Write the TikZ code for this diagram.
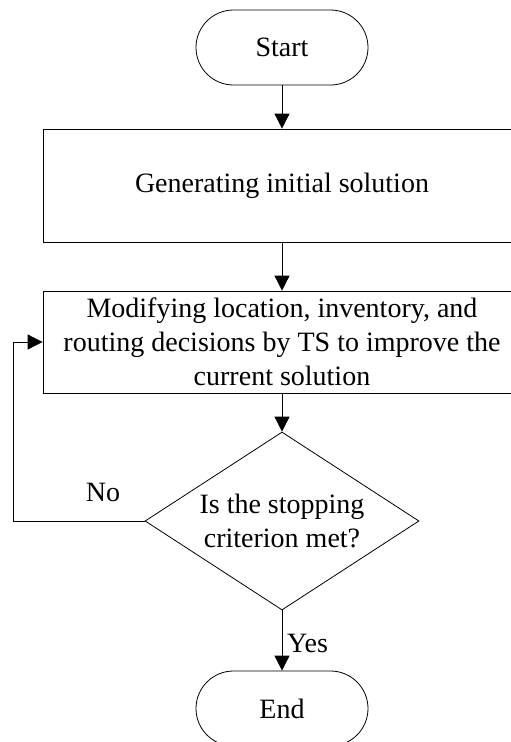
\documentclass[tikz,border=0pt]{standalone}
\usepackage{fontspec}
\setmainfont{Liberation Serif}
\usetikzlibrary{shapes.geometric,arrows.meta}
\begin{document}
\begin{tikzpicture}[x=1pt,y=-1pt,
  every node/.style={font=\fontsize{28}{34}\selectfont},
  term/.style={draw,line width=0.8pt,rectangle,rounded corners=37.5pt,minimum width=172pt,minimum height=75pt,inner sep=0pt},
  procbox/.style={draw,line width=0.8pt,rectangle,minimum width=478pt,inner sep=0pt,align=center},
  decision/.style={draw,line width=0.8pt,diamond,aspect=1.54,minimum width=274pt,minimum height=178pt,inner sep=0pt,align=center},
  flow/.style={line width=0.8pt,-{Triangle[width=15pt,length=15pt]}},
  lbl/.style={inner sep=0pt}]
\useasboundingbox (0,0) rectangle (511,742);
\clip (0,0) rectangle (511,742);
\node[term] (start) at (282,47.5) {Start};
\node[procbox,minimum height=113pt] (init) at (282,185.5) {Generating initial solution};
\node[procbox,minimum height=102pt] (modify) at (282,342) {Modifying location, inventory, and\\routing decisions by TS to improve the\\current solution};
\node[decision] (stop) at (282,521) {Is the stopping\\criterion met?};
\node[term] (end) at (282,708.5) {End};
\coordinate (lb) at (13,521);
\coordinate (lt) at (13,342);
\node[lbl] (no) at (103,492) {No};
\node[lbl,anchor=west] (yes) at (287,643) {Yes};
\draw[flow] (start) -- (init);
\draw[flow] (init) -- (modify);
\draw[flow] (modify) -- (stop);
\draw[flow] (stop) -- (end);
\draw[flow] (stop.west) -- (lb) -- (lt) -- (modify.west);
\end{tikzpicture}
\end{document}
